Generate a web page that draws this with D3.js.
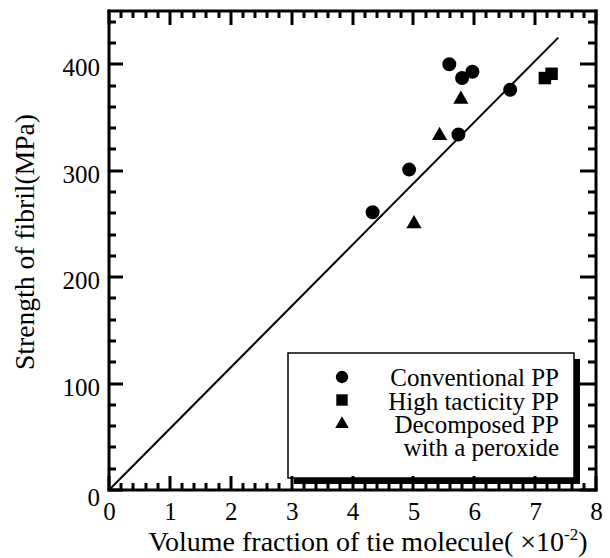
<!DOCTYPE html>
<html><head><meta charset="utf-8">
<script src="https://cdn.jsdelivr.net/npm/d3@7"></script>
<style>body{margin:0;background:#fff}svg{display:block}text{font-family:"Liberation Serif","Times New Roman",serif;fill:#000}</style>
</head><body>
<script>
// ---- data ----
const conventionalX = [4.33, 4.93, 5.59, 5.74, 5.80, 5.97, 6.59];
const conventionalY = [261, 301, 400, 334, 387, 393, 376];
const highTacticityX = [7.16, 7.27];
const highTacticityY = [387, 391];
const decomposedX = [5.01, 5.43, 5.78];
const decomposedY = [250, 333, 367];
const fitLineX = [0, 7.38];
const fitLineY = [0, 425];
const xTicks = [0, 1, 2, 3, 4, 5, 6, 7, 8];
const yTicks = [0, 100, 200, 300, 400];
const legendLabels = ["Conventional PP", "High tacticity PP", "Decomposed PP", "with a peroxide"];

const W = 610, H = 558;
const svg = d3.select("body").append("svg").attr("width", W).attr("height", H);
const x = d3.scaleLinear().domain([0, 8]).range([109, 596]);
const y = d3.scaleLinear().domain([0, 450]).range([490, 11]);

const xMinor = d3.range(0, 41).map(i => i / 5).filter(v => !xTicks.includes(v));
const yMinor = d3.range(0, 23).map(i => i * 20).filter(v => !yTicks.includes(v) && v <= 450);

function styleLabels(g) {
  g.select(".domain").remove();
  g.selectAll("line").remove();
  g.attr("font-family", null);
  g.selectAll("text").attr("font-family", "Liberation Serif").style("font-size", "25px").attr("fill", "#000");
}
svg.append("g").attr("transform", `translate(0,${y(0)})`)
  .call(d3.axisBottom(x).tickValues(xTicks).tickSize(0).tickPadding(12).tickFormat(d3.format("d"))).call(styleLabels);
const gl = svg.append("g").attr("transform", `translate(${x(0)},0)`)
  .call(d3.axisLeft(y).tickValues(yTicks).tickSize(0).tickPadding(9).tickFormat(d3.format("d"))).call(styleLabels);
gl.selectAll("text").attr("dy", d => d === 0 ? "0.6em" : "0.46em");

svg.append("path").datum(d3.zip(fitLineX, fitLineY))
  .attr("d", d3.line().x(d => x(d[0])).y(d => y(d[1])))
  .attr("fill", "none").attr("stroke", "#000").attr("stroke-width", 2);

function pts(xs, ys, type, size) {
  svg.append("g").selectAll("path").data(d3.zip(xs, ys)).join("path")
    .attr("transform", d => `translate(${x(d[0])},${y(d[1])})`)
    .attr("d", d3.symbol().type(type).size(size)).attr("fill", "#000");
}
pts(conventionalX, conventionalY, d3.symbolCircle, 154);
pts(highTacticityX, highTacticityY, d3.symbolSquare, 156);
pts(decomposedX, decomposedY, d3.symbolTriangle, 100);

// frame
const fr = svg.append("g").attr("fill", "#000");
fr.append("rect").attr("x", x(0) - 1.5).attr("y", y(0) - 1.5).attr("width", x(8) - x(0) + 3).attr("height", 3);
fr.append("rect").attr("x", x(0) - 1.5).attr("y", y(450) - 1.5).attr("width", x(8) - x(0) + 3).attr("height", 3);
fr.append("rect").attr("x", x(0) - 1.5).attr("y", y(450) - 1.5).attr("width", 3).attr("height", y(0) - y(450) + 3);
fr.append("rect").attr("x", x(8) - 1.5).attr("y", y(450) - 1.5).attr("width", 3).attr("height", y(0) - y(450) + 3);

// legend
const lg = svg.append("g");
lg.append("rect").attr("x", 294).attr("y", 359).attr("width", 286).attr("height", 125).attr("fill", "#000");
lg.append("rect").attr("x", 288).attr("y", 353).attr("width", 286).attr("height", 125)
  .attr("fill", "#fff").attr("stroke", "#000").attr("stroke-width", 1.5);
const legSyms = [[d3.symbolCircle, 120, 377], [d3.symbolSquare, 130, 400], [d3.symbolTriangle, 80, 424]];
legSyms.forEach(s => lg.append("path").attr("transform", `translate(342,${s[2]})`)
  .attr("d", d3.symbol().type(s[0]).size(s[1])).attr("fill", "#000"));
const legBase = [386, 410, 433, 456];
legendLabels.forEach((t, i) => lg.append("text").attr("x", 559).attr("y", legBase[i])
  .attr("text-anchor", "end").style("font-size", "25px").text(t));

// axis titles
const xt = svg.append("text").attr("x", 368).attr("y", 551).attr("text-anchor", "middle").style("font-size", "28px");
xt.append("tspan").text("Volume fraction of tie molecule( \u00D710");
xt.append("tspan").attr("dy", -11).style("font-size", "17px").text("-2");
xt.append("tspan").attr("dy", 11).text(")");
svg.append("text").attr("transform", "rotate(-90)").attr("x", -242).attr("y", 34)
  .attr("text-anchor", "middle").style("font-size", "27.6px").text("Strength of fibril(MPa)");

// inward tick marks, appended last, each from the scales
function vTicks(vals, len, y0, dir, w) {
  vals.forEach(v => {
    svg.append("rect").attr("x", Math.round(x(v)) - w / 2).attr("width", w)
      .attr("y", dir < 0 ? y0 - len : y0).attr("height", len).attr("fill", "#000");
  });
}
function hTicks(vals, len, x0, dir, w) {
  vals.forEach(v => {
    svg.append("rect").attr("y", Math.round(y(v)) - w / 2).attr("height", w)
      .attr("x", dir < 0 ? x0 - len : x0).attr("width", len).attr("fill", "#000");
  });
}
vTicks(xTicks, 14, y(0), -1, 3);
vTicks(xMinor, 7, y(0), -1, 3);
vTicks(xTicks, 14, y(450), 1, 3);
vTicks(xMinor, 7, y(450), 1, 3);
hTicks(yTicks, 14, x(0), 1, 3);
hTicks(yMinor, 7, x(0), 1, 3);
hTicks(yTicks, 16, x(8), -1, 3);
hTicks(yMinor, 8, x(8), -1, 3);
</script>
</body></html>
